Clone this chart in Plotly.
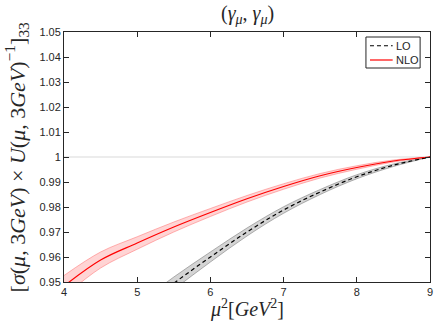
import plotly.graph_objects as go

# ---- data ----
mu2 = [4.0, 4.5, 5.0, 5.5, 6.0, 6.5, 7.0, 7.5, 8.0, 8.5, 9.0]

nlo_center = [0.9484, 0.9588, 0.9656, 0.9720, 0.9778, 0.9833, 0.9882, 0.9925, 0.9958, 0.9984, 1.0]
nlo_err    = [0.0042, 0.0032, 0.0025, 0.0020, 0.0016, 0.0013, 0.0011, 0.0009, 0.0007, 0.0004, 0.0]

lo_center  = [0.9150, 0.9270, 0.9383, 0.9495, 0.9600, 0.9700, 0.9788, 0.9860, 0.9921, 0.9967, 1.0]
lo_err     = [0.0034, 0.0031, 0.0028, 0.0025, 0.0020, 0.0016, 0.0013, 0.0010, 0.0008, 0.0005, 0.0]

series_names = ["LO", "NLO"]

x_ticks = [4, 5, 6, 7, 8, 9]
y_ticks = [0.95, 0.96, 0.97, 0.98, 0.99, 1.0, 1.01, 1.02, 1.03, 1.04, 1.05]
y_ticktext = ["0.95", "0.96", "0.97", "0.98", "0.99", "1", "1.01", "1.02", "1.03", "1.04", "1.05"]

LO_COLOR = "black"
NLO_COLOR = "#ff0000"
LO_DASH = "4px,3px"

fig = go.Figure()

# reference line at 1
fig.add_trace(go.Scatter(x=[mu2[0], mu2[-1]], y=[1.0, 1.0], mode="lines",
                         line=dict(color="#d9d9d9", width=1), showlegend=False, hoverinfo="skip"))

def band(center, err, fillcolor, edgecolor):
    up = [c + e for c, e in zip(center, err)]
    lo = [c - e for c, e in zip(center, err)]
    fig.add_trace(go.Scatter(x=mu2, y=up, mode="lines", line=dict(color=edgecolor, width=0.8, shape="spline"),
                             showlegend=False, hoverinfo="skip"))
    fig.add_trace(go.Scatter(x=mu2, y=lo, mode="lines", line=dict(color=edgecolor, width=0.8, shape="spline"),
                             fill="tonexty", fillcolor=fillcolor, showlegend=False, hoverinfo="skip"))

band(lo_center, lo_err, "rgba(160,160,160,0.45)", "rgba(120,120,120,0.7)")
band(nlo_center, nlo_err, "rgba(255,0,0,0.17)", "rgba(255,100,100,0.6)")

fig.add_trace(go.Scatter(x=mu2, y=lo_center, mode="lines", name=series_names[0], showlegend=False,
                         line=dict(color=LO_COLOR, width=1.2, dash=LO_DASH, shape="spline")))
fig.add_trace(go.Scatter(x=mu2, y=nlo_center, mode="lines", name=series_names[1], showlegend=False,
                         line=dict(color=NLO_COLOR, width=1.2, shape="spline")))

axis_common = dict(showgrid=False, zeroline=False, showline=True, linecolor="#262626", linewidth=1,
                   mirror="ticks", ticks="inside", ticklen=5, tickcolor="#262626", automargin=False,
                   tickfont=dict(family="Liberation Sans, Arial", size=11, color="#262626"))

fig.update_xaxes(range=[4, 9], tickvals=x_ticks, **axis_common)
fig.update_yaxes(range=[0.95, 1.05], tickvals=y_ticks, ticktext=y_ticktext, **axis_common)

# manual legend box (paper coordinates)
legend_shapes = [
    dict(type="rect", xref="paper", yref="paper", x0=0.825, x1=0.973, y0=0.856, y1=0.98,
         line=dict(color="#262626", width=1), fillcolor="white", layer="above"),
    dict(type="line", xref="paper", yref="paper", x0=0.836, x1=0.898, y0=0.945, y1=0.945,
         line=dict(color=LO_COLOR, width=1.2, dash=LO_DASH), layer="above"),
    dict(type="line", xref="paper", yref="paper", x0=0.836, x1=0.898, y0=0.888, y1=0.888,
         line=dict(color=NLO_COLOR, width=1.2), layer="above"),
]
legend_texts = [
    dict(text=series_names[0], xref="paper", yref="paper", x=0.902, y=0.945, xanchor="left", yanchor="middle",
         showarrow=False, font=dict(family="Liberation Sans, Arial", size=11, color="#262626")),
    dict(text=series_names[1], xref="paper", yref="paper", x=0.902, y=0.888, xanchor="left", yanchor="middle",
         showarrow=False, font=dict(family="Liberation Sans, Arial", size=11, color="#262626")),
]

fig.update_layout(
    width=436, height=327,
    margin=dict(l=64, r=6, t=32, b=45, autoexpand=False),
    paper_bgcolor="white", plot_bgcolor="white",
    showlegend=False,
    shapes=legend_shapes,
    annotations=[
        dict(text="(<i>γ</i><sub><i>μ</i></sub>, <i>γ</i><sub><i>μ</i></sub>)",
             xref="paper", yref="paper", x=0.5, y=1.068, xanchor="center", yanchor="middle",
             showarrow=False, font=dict(family="Liberation Serif, DejaVu Serif", size=20, color="#262626")),
        dict(text="<i>μ</i><sup>2</sup>[<i>GeV</i><sup>2</sup>]",
             xref="paper", yref="paper", x=0.5, y=-0.104, xanchor="center", yanchor="middle",
             showarrow=False, font=dict(family="Liberation Serif, DejaVu Serif", size=20, color="#262626")),
        dict(text="[<i>σ</i>(<i>μ</i>, 3<i>GeV</i>) × <i>U</i>(<i>μ</i>, 3<i>GeV</i>)<sup>−1</sup>]<sub>33</sub>",
             xref="paper", yref="paper", x=-0.13, y=0.5, xanchor="center", yanchor="middle",
             textangle=-90, showarrow=False,
             font=dict(family="Liberation Serif, DejaVu Serif", size=22, color="#262626")),
    ] + legend_texts,
)

fig.write_html("out.html", config={"displayModeBar": False},
               post_script="document.body.style.margin='0';document.body.style.overflow='hidden';")
